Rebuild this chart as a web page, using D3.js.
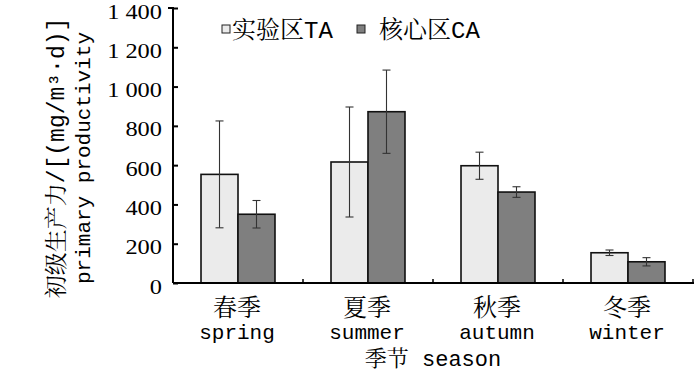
<!DOCTYPE html>
<html><head><meta charset="utf-8">
<script src="https://cdn.jsdelivr.net/npm/d3@7"></script>
<style>
body{margin:0;background:#fff;}
text{fill:#000;}
</style></head>
<body><svg id="c" width="700" height="372"></svg>
<script>
const seasonsCN = ["春季","夏季","秋季","冬季"];
const seasonsEN = ["spring","summer","autumn","winter"];
const seriesNames = ["实验区TA","核心区CA"];
const taValues = [553, 616, 597, 154];
const taErrors = [272, 280, 69, 14];
const caValues = [350, 872, 463, 108];
const caErrors = [70, 212, 27, 21];
const yTicks = [0,200,400,600,800,1000,1200,1400];
const yTickLabels = ["0","200","400","600","800","1 000","1 200","1 400"];

const svg = d3.select("#c");
const mixFont = "'Liberation Mono','Noto Serif CJK SC','Noto Sans CJK SC',monospace";
const numFont = "'Liberation Serif','Times New Roman',serif";
const fills = ["#ebebeb","#7f7f7f"];

const y = d3.scaleLinear().domain([0,1400]).range([283,8]);
const x0 = d3.scaleBand().domain(seasonsEN).range([173,693]).paddingInner(0).paddingOuter(0);
const x1 = d3.scaleBand().domain(seriesNames).range([0,x0.bandwidth()]).paddingInner(0).paddingOuter(0.757);

const data = seasonsEN.map((s,i)=>({season:s, vals:[
  {name:seriesNames[0], v:taValues[i], e:taErrors[i], f:fills[0]},
  {name:seriesNames[1], v:caValues[i], e:caErrors[i], f:fills[1]}]}));

const g = svg.append("g");
const grp = g.selectAll("g.s").data(data).join("g").attr("transform",d=>`translate(${x0(d.season)},0)`);
grp.selectAll("rect").data(d=>d.vals).join("rect")
  .attr("x",d=>x1(d.name)).attr("width",x1.bandwidth())
  .attr("y",d=>y(d.v)).attr("height",d=>y(0)-y(d.v))
  .attr("fill",d=>d.f).attr("stroke","#111").attr("stroke-width",1.6);
const eb = grp.selectAll("g.eb").data(d=>d.vals).join("g").attr("stroke","#333").attr("stroke-width",1.1);
eb.append("line").attr("x1",d=>x1(d.name)+x1.bandwidth()/2).attr("x2",d=>x1(d.name)+x1.bandwidth()/2)
  .attr("y1",d=>y(d.v+d.e)).attr("y2",d=>y(d.v-d.e));
eb.append("line").attr("x1",d=>x1(d.name)+x1.bandwidth()/2-4).attr("x2",d=>x1(d.name)+x1.bandwidth()/2+4)
  .attr("y1",d=>y(d.v+d.e)).attr("y2",d=>y(d.v+d.e));
eb.append("line").attr("x1",d=>x1(d.name)+x1.bandwidth()/2-4).attr("x2",d=>x1(d.name)+x1.bandwidth()/2+4)
  .attr("y1",d=>y(d.v-d.e)).attr("y2",d=>y(d.v-d.e));

// Y axis
const ya = svg.append("g").attr("transform","translate(173,0)")
  .call(d3.axisLeft(y).tickValues(yTicks).tickSize(-5).tickPadding(11).tickFormat((d,i)=>yTickLabels[i]));
ya.select(".domain").attr("stroke","#000").attr("stroke-width",2).attr("d","M-5,8H0V283");
ya.selectAll(".tick line").attr("stroke","#000").attr("stroke-width",2);
ya.selectAll(".tick text").attr("font-family",numFont).attr("font-size",20).attr("fill","#000").attr("dy","10px")
  .attr("x",-11/1.22).attr("transform","scale(1.22,1)")
  .attr("xml:space","preserve").style("white-space","pre");

// X axis
const xa = svg.append("g").attr("transform","translate(0,283)");
xa.append("line").attr("x1",173).attr("x2",694).attr("y1",0).attr("y2",0).attr("stroke","#000").attr("stroke-width",2);
xa.selectAll("line.t").data(seasonsEN).join("line").attr("class","t")
  .attr("x1",d=>x0(d)+x0.bandwidth()).attr("x2",d=>x0(d)+x0.bandwidth())
  .attr("y1",0).attr("y2",-4).attr("stroke","#000").attr("stroke-width",1.5);
xa.selectAll("text.cn").data(seasonsEN).join("text").attr("class","cn")
  .attr("x",d=>x0(d)+x0.bandwidth()/2-1).attr("y",33).attr("text-anchor","middle")
  .attr("font-family",mixFont).attr("font-size",24).text((d,i)=>seasonsCN[i]);
xa.selectAll("text.en").data(seasonsEN).join("text").attr("class","en")
  .attr("x",d=>x0(d)+x0.bandwidth()/2-1).attr("y",56).attr("text-anchor","middle")
  .attr("font-family",mixFont).attr("font-size",21).text(d=>d);
svg.append("text").attr("x",433).attr("y",366).attr("text-anchor","middle")
  .attr("font-family",mixFont).attr("font-size",22).text("季节 season");

// Y title
const yt = svg.append("text").attr("transform","translate(0,158) rotate(-90)").attr("text-anchor","middle")
  .attr("font-family",mixFont);
yt.append("tspan").attr("x",0).attr("y",64).attr("font-size",23).text("初级生产力/[(mg/m³·d)]");
yt.append("tspan").attr("x",0).attr("y",90).attr("font-size",21).text("primary productivity");

// Legend
const leg = svg.append("g");
const lx = [222, 357], tx = [232, 379];
seriesNames.forEach((n,i)=>{
  leg.append("rect").attr("x",lx[i]).attr("y",25).attr("width",8).attr("height",8)
    .attr("fill",fills[i]).attr("stroke","#222").attr("stroke-width",1);
  leg.append("text").attr("x",tx[i]).attr("y",38).attr("font-family",mixFont).attr("font-size",24).text(n);
});
</script></body></html>
